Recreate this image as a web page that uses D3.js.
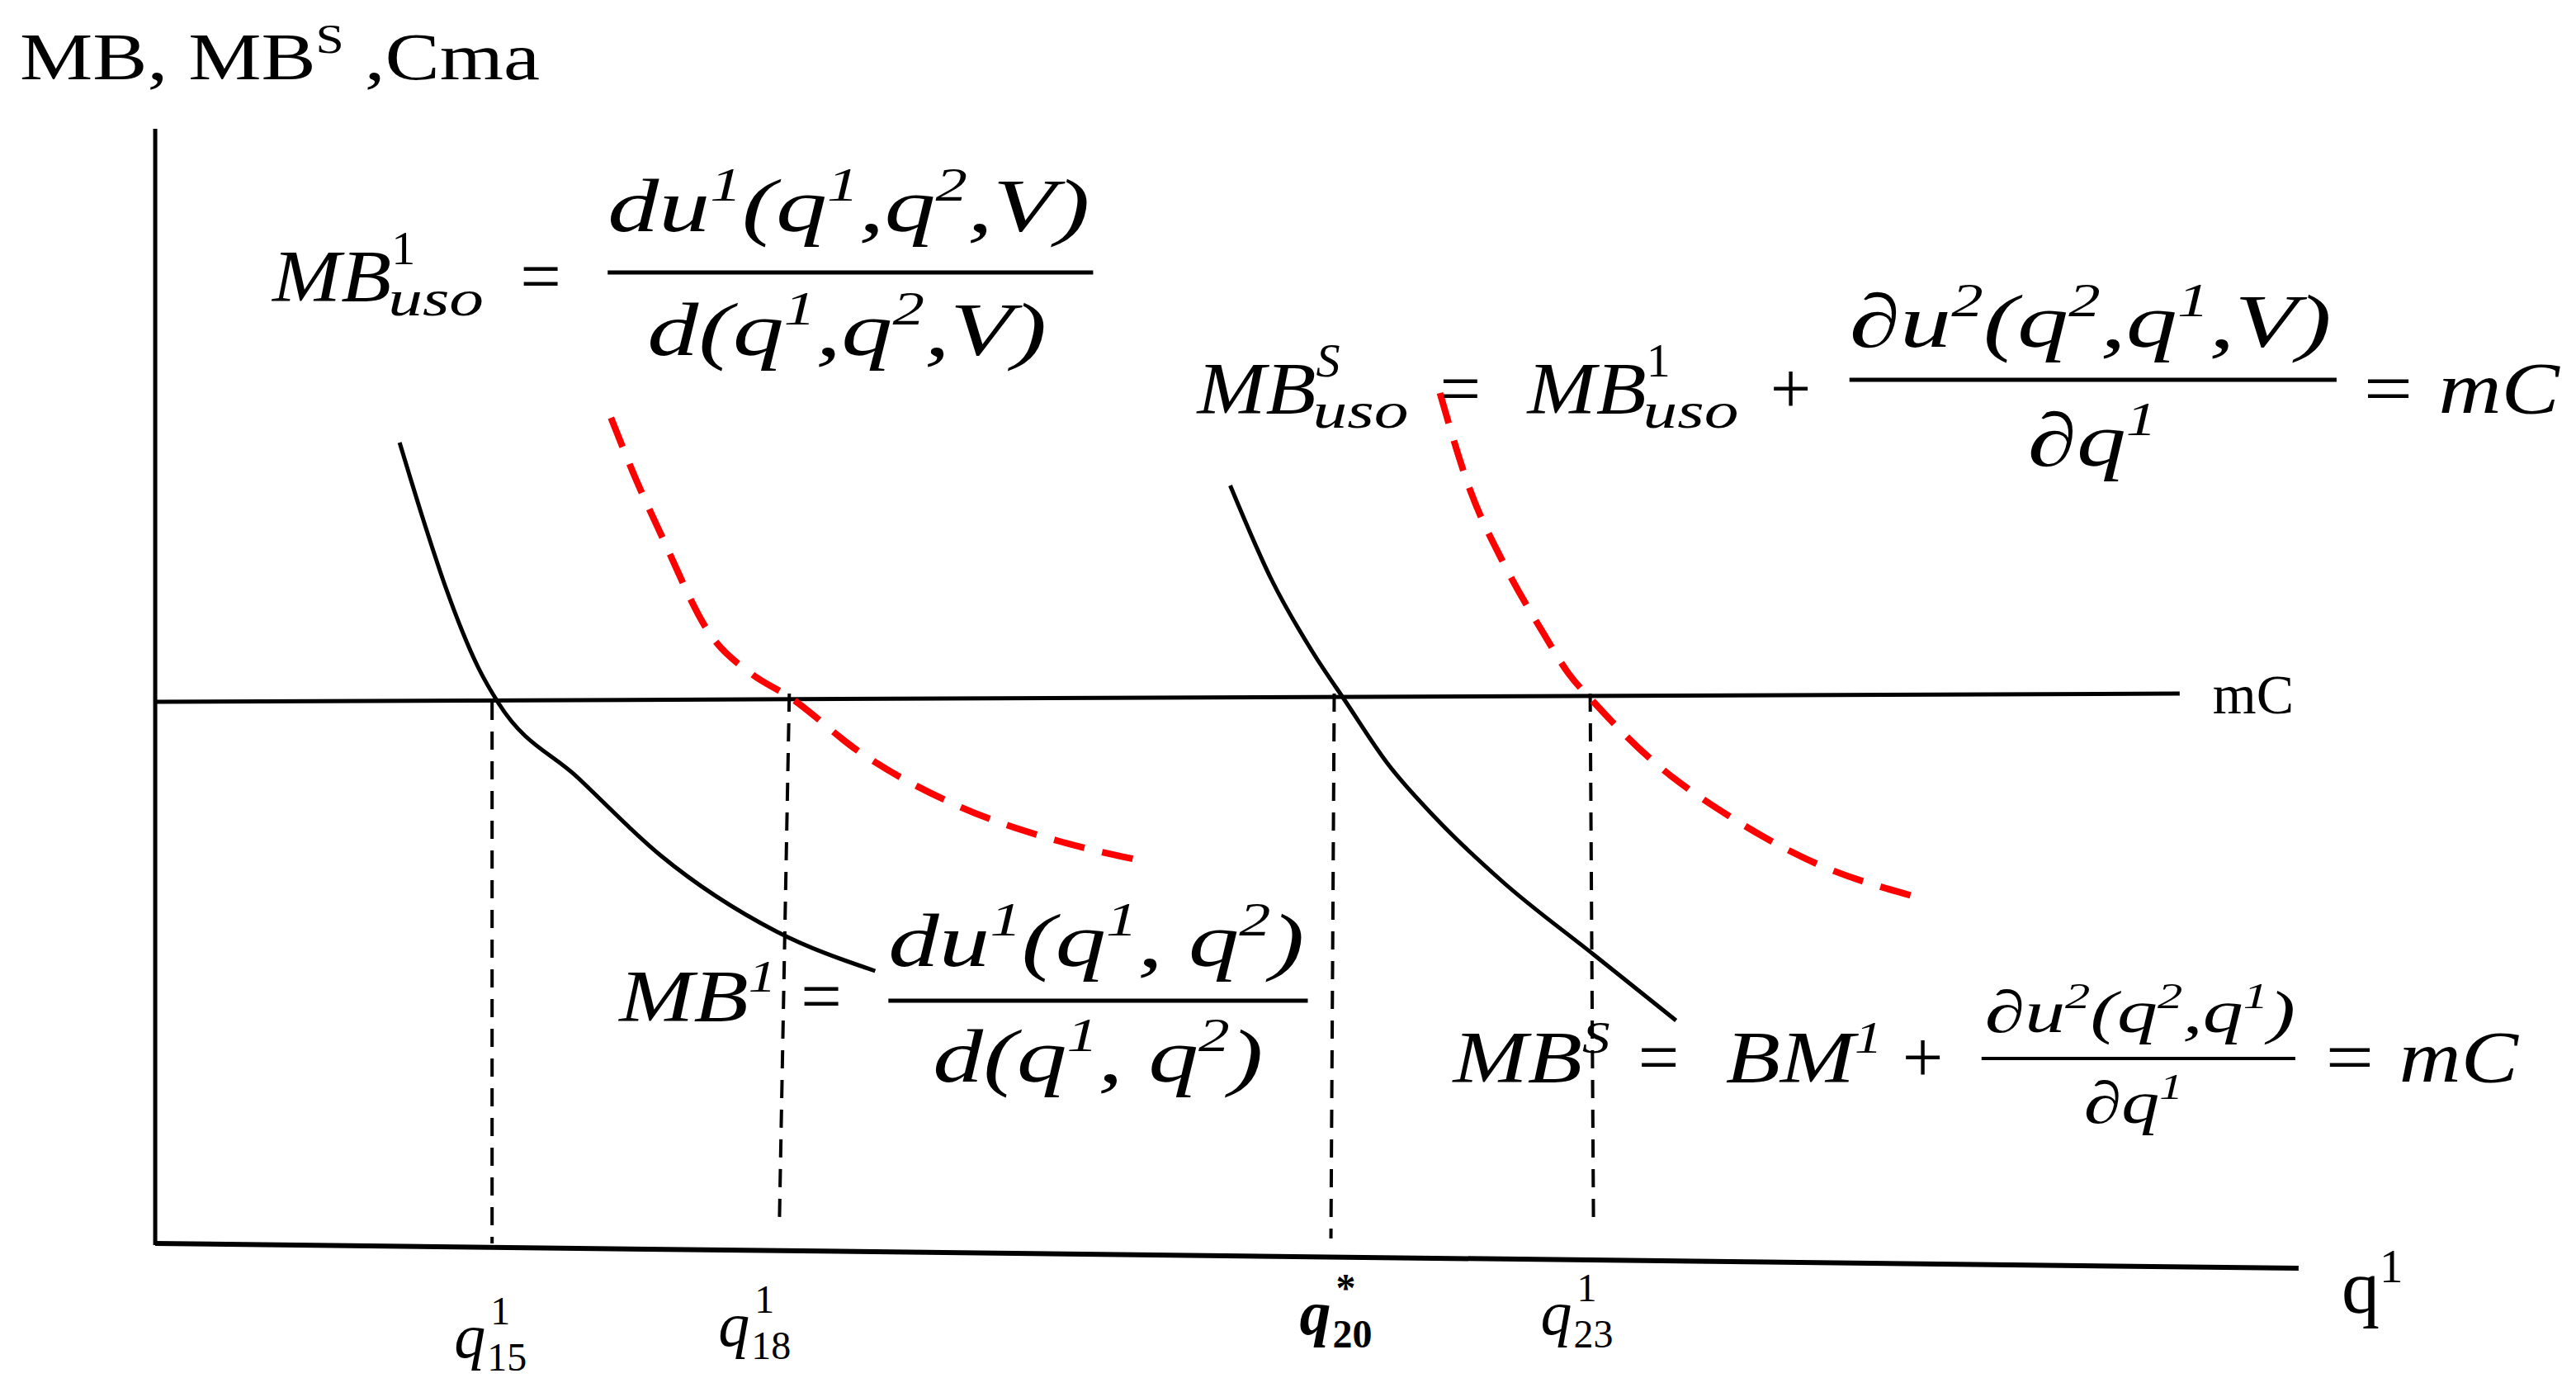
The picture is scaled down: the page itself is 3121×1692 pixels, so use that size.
<!DOCTYPE html>
<html><head><meta charset="utf-8">
<script src="https://d3js.org/d3.v7.min.js"></script>
<style>body{margin:0;background:#fff}</style>
</head><body><div id="chart"></div>
<script>
// curve samples (q, value) in picture units
const mb1 = [[242,268],[258,320],[270,356],[290,405],[302,426],[350,471],[400,518],[470,564],[530,588]];
const mb1uso = [[370,253],[385,290],[400,323],[430,384],[455,408],[478,422],[520,455],[580,488],[640,509],[695,522]];
const mbS = [[745,294],[770,351],[795,395],[815,425],[840,462],[870,496],[910,534],[965,578],[1015,618]];
const mbSuso = [[872,238],[890,296],[910,340],[935,384],[950,408],[965,425],[1000,460],[1050,496],[1100,523],[1160,543]];
const mC = [[94,425],[1320,420]];
const qAxis = [[94,753],[1392,768]];
const vals = [
  {q0:298, y0:425, q1:298, y1:753, label:"15", sup:"1"},
  {q0:478, y0:420, q1:472, y1:740, label:"18", sup:"1"},
  {q0:808, y0:420, q1:806, y1:750, label:"20", sup:"*"},
  {q0:963, y0:420, q1:965, y1:740, label:"23", sup:"1"}
];
const tickPos = [300, 460, 812, 958];

const W = 3121, H = 1692;
const x = d3.scaleLinear().domain([0, 1560]).range([0, W]);
const y = d3.scaleLinear().domain([0, 846]).range([0, H]);
const svg = d3.select("#chart").append("svg").attr("width", W).attr("height", H);
const line = d3.line().x(d => x(d[0])).y(d => y(d[1]));
const lineC = d3.line().x(d => x(d[0])).y(d => y(d[1])).curve(d3.curveMonotoneX);

// axes
svg.append("line").attr("x1", x(94)).attr("y1", y(78)).attr("x2", x(94)).attr("y2", y(754))
  .attr("stroke", "#000").attr("stroke-width", 5);
svg.append("path").attr("d", line(qAxis)).attr("stroke", "#000").attr("stroke-width", 6).attr("fill", "none");
svg.append("path").attr("d", line(mC)).attr("stroke", "#000").attr("stroke-width", 5).attr("fill", "none");

vals.forEach(v => {
  svg.append("line").attr("x1", x(v.q0)).attr("y1", y(v.y0)).attr("x2", x(v.q1)).attr("y2", y(v.y1))
    .attr("stroke", "#000").attr("stroke-width", 4).attr("stroke-dasharray", "22,14");
});

svg.append("path").attr("d", lineC(mb1)).attr("stroke", "#000").attr("stroke-width", 5).attr("fill", "none");
svg.append("path").attr("d", lineC(mbS)).attr("stroke", "#000").attr("stroke-width", 5).attr("fill", "none");
svg.append("path").attr("d", lineC(mb1uso)).attr("stroke", "#f00").attr("stroke-width", 8).attr("fill", "none").attr("stroke-dasharray", "38,22");
svg.append("path").attr("d", lineC(mbSuso)).attr("stroke", "#f00").attr("stroke-width", 8).attr("fill", "none").attr("stroke-dasharray", "38,22");

// text helpers
const serif = "'Liberation Serif', 'Times New Roman', serif";
function txt(px, py, s, size, opts = {}) {
  const t = svg.append("text").attr("x", x(px)).attr("y", y(py))
    .attr("font-family", opts.family || serif).attr("font-size", size * 2)
    .attr("font-style", opts.italic === false ? "normal" : "italic")
    .attr("font-weight", opts.bold ? "bold" : "normal")
    .attr("text-anchor", opts.anchor || "start").text(s);
  if (opts.w) t.attr("textLength", opts.w * 2).attr("lengthAdjust", "spacingAndGlyphs");
  return t;
}
// rich text: parts [str, 'n'|'sup'|'sub']
function rich(px, py, parts, size, opts = {}) {
  const t = svg.append("text").attr("x", x(px)).attr("y", y(py))
    .attr("font-family", serif).attr("font-size", size * 2)
    .attr("font-style", opts.italic === false ? "normal" : "italic")
    .attr("text-anchor", opts.anchor || "start");
  let shift = 0;
  parts.forEach(([s, k]) => {
    const target = k === "sup" ? -size * 0.8 : k === "sub" ? size * 0.5 : 0;
    t.append("tspan").attr("dy", target - shift)
      .attr("font-size", (k === "n" ? size : size * 0.62) * 2).text(s);
    shift = target;
  });
  if (opts.w) t.attr("textLength", opts.w * 2).attr("lengthAdjust", "spacingAndGlyphs");
  return t;
}
function bar(a, b, yy, sw) {
  svg.append("line").attr("x1", x(a)).attr("x2", x(b)).attr("y1", y(yy)).attr("y2", y(yy))
    .attr("stroke", "#000").attr("stroke-width", sw || 5);
}
// MB with stacked sup/sub
function mbStack(px, py, sup, sub, size, w) {
  txt(px, py, "MB", size, {w: w});
  txt(px + w, py - size * 0.5, sup, size * 0.66, {italic: sup === "S"});
  txt(px + w - 2, py + size * 0.2, sub, size * 0.7, {w: 58});
}

// title
rich(12, 48, [["MB, MB", "n"], ["S", "sup"], [" ,Cma", "n"]], 40, {italic: false, w: 315});
rich(1418, 795, [["q", "n"], ["1", "sup"]], 46, {italic: false});
txt(1340, 432, "mC", 34, {italic: false});

// formula 1
mbStack(165, 182, "1", "uso", 44, 72);
txt(315, 182, "=", 44, {italic: false});
rich(368, 140, [["du", "n"], ["1", "sup"], ["(q", "n"], ["1", "sup"], [",q", "n"], ["2", "sup"], [",V)", "n"]], 46, {w: 292});
bar(368, 662, 165);
rich(392, 215, [["d(q", "n"], ["1", "sup"], [",q", "n"], ["2", "sup"], [",V)", "n"]], 46, {w: 242});

// formula 2
mbStack(725, 250, "S", "uso", 44, 72);
txt(872, 250, "=", 44, {italic: false});
mbStack(925, 250, "1", "uso", 44, 72);
txt(1072, 250, "+", 44, {italic: false});
rich(1120, 210, [["∂u", "n"], ["2", "sup"], ["(q", "n"], ["2", "sup"], [",q", "n"], ["1", "sup"], [",V)", "n"]], 46, {w: 292});
bar(1120, 1415, 230);
rich(1228, 282, [["∂q", "n"], ["1", "sup"]], 46, {w: 78});
txt(1428, 250, "= mC", 44, {w: 122});

// formula 3
rich(375, 618, [["MB", "n"], ["1", "sup"]], 44, {w: 95});
txt(485, 618, "=", 44, {italic: false});
rich(538, 585, [["du", "n"], ["1", "sup"], ["(q", "n"], ["1", "sup"], [", q", "n"], ["2", "sup"], [")", "n"]], 46, {w: 252});
bar(538, 792, 606);
rich(565, 655, [["d(q", "n"], ["1", "sup"], [", q", "n"], ["2", "sup"], [")", "n"]], 46, {w: 200});

// formula 4
rich(880, 655, [["MB", "n"], ["S", "sup"]], 44, {w: 95});
txt(992, 655, "=", 44, {italic: false});
rich(1045, 655, [["BM", "n"], ["1", "sup"]], 44, {w: 95});
txt(1152, 655, "+", 44, {italic: false});
rich(1202, 625, [["∂u", "n"], ["2", "sup"], ["(q", "n"], ["2", "sup"], [",q", "n"], ["1", "sup"], [")", "n"]], 36, {w: 188});
bar(1200, 1390, 641, 4);
rich(1262, 680, [["∂q", "n"], ["1", "sup"]], 36, {w: 60});
txt(1405, 655, "= mC", 44, {w: 120});

// tick labels
vals.forEach((v, i) => {
  const cx = tickPos[i];
  const by = [822, 815, 808, 808][i];
  txt(cx - 25, by, "q", 38, {bold: i === 2});
  txt(cx - 3, by - 20, v.sup, 24, {bold: i === 2, italic: false});
  txt(cx - 5, by + 8, v.label, 24, {bold: i === 2, italic: false});
});
</script></body></html>
